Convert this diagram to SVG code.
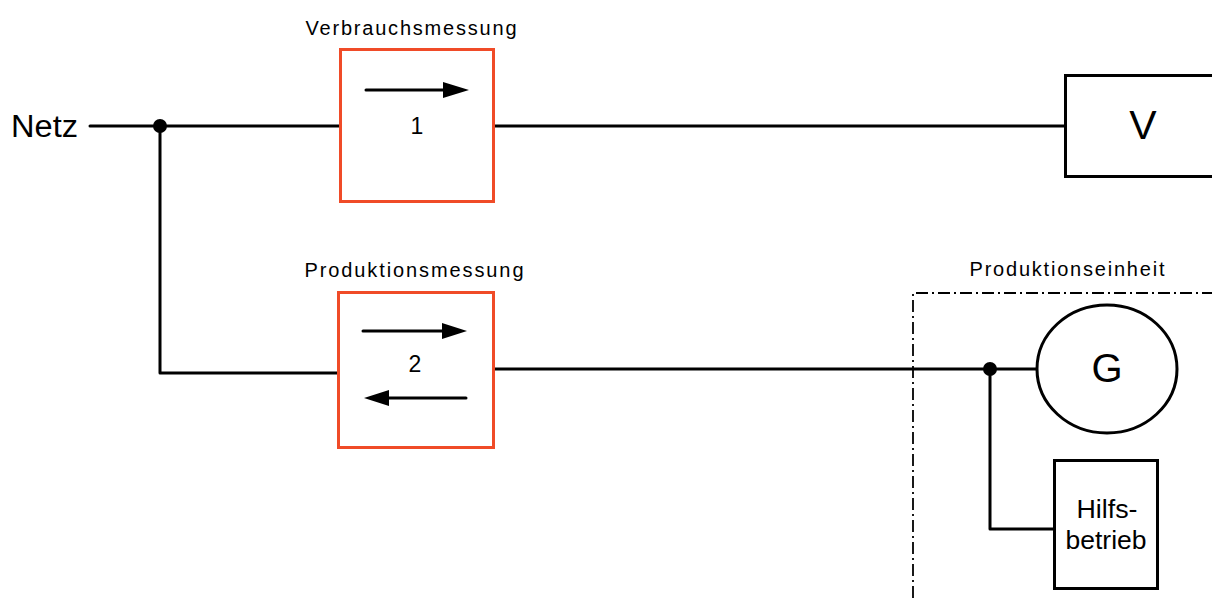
<svg xmlns="http://www.w3.org/2000/svg" width="1212" height="599" viewBox="0 0 1212 599">
<style>
  text { font-family: "Liberation Sans", Arial, sans-serif; fill: #000; }
  .wire { stroke: #000; stroke-width: 3; fill: none; stroke-linecap: round; stroke-linejoin: round; }
  .meter { stroke: #f04b28; stroke-width: 3; fill: #fff; }
  .blk { stroke: #000; stroke-width: 3; fill: #fff; }
  .arr { stroke: #000; stroke-width: 3; fill: none; stroke-linecap: round; }
  .head { fill: #000; stroke: none; }
  .lbl { font-size: 20px; text-anchor: middle; }
  .num { font-size: 23px; text-anchor: middle; }
  .dot { fill: #000; }
</style>
<rect width="1212" height="599" fill="#fff"/>

<g id="produktionseinheit">
  <path d="M913,598 L913,293 L1212,293" fill="none" stroke="#000" stroke-width="1.8" stroke-dasharray="12 4 2 4"/>
  <text x="1067" y="276" class="lbl" textLength="195" lengthAdjust="spacing">Produktionseinheit</text>
</g>

<g id="connectors">
  <line class="wire" x1="90" y1="126" x2="340" y2="126"/>
  <polyline class="wire" points="160,126 160,373 338,373"/>
  <line class="wire" x1="494" y1="126" x2="1065" y2="126"/>
  <line class="wire" x1="493" y1="369" x2="1037" y2="369"/>
  <polyline class="wire" points="990,369 990,529 1054,529"/>
  <circle class="dot" cx="160" cy="126" r="7"/>
  <circle class="dot" cx="990" cy="369" r="7"/>
</g>

<g id="netz">
  <text x="11" y="137" font-size="31" textLength="67" lengthAdjust="spacingAndGlyphs">Netz</text>
</g>

<g id="verbrauchsmessung">
  <text x="411" y="35" class="lbl" textLength="211" lengthAdjust="spacing">Verbrauchsmessung</text>
  <rect class="meter" x="340.5" y="49.5" width="153" height="152"/>
  <line class="arr" x1="366" y1="90" x2="446" y2="90"/>
  <polygon class="head" points="443,82 469,90 443,98"/>
  <text x="417" y="134" class="num">1</text>
</g>

<g id="produktionsmessung">
  <text x="414" y="277" class="lbl" textLength="219" lengthAdjust="spacing">Produktionsmessung</text>
  <rect class="meter" x="338.5" y="292.5" width="155" height="155"/>
  <line class="arr" x1="363" y1="331" x2="445" y2="331"/>
  <polygon class="head" points="442,323 467,331 442,339"/>
  <line class="arr" x1="466" y1="398" x2="385" y2="398"/>
  <polygon class="head" points="389,390 364,398 389,406"/>
  <text x="415" y="372" class="num">2</text>
</g>

<g id="verbraucher">
  <rect class="blk" x="1065.5" y="75.5" width="160" height="101"/>
  <text x="1143" y="139" font-size="41" text-anchor="middle">V</text>
</g>

<g id="generator">
  <ellipse class="blk" cx="1107" cy="369" rx="70" ry="64"/>
  <text x="1107" y="382" font-size="40" text-anchor="middle">G</text>
</g>

<g id="hilfsbetrieb">
  <rect class="blk" x="1054.5" y="460.5" width="103" height="128"/>
  <text x="1107" y="518" font-size="26" text-anchor="middle" textLength="61" lengthAdjust="spacingAndGlyphs">Hilfs-</text>
  <text x="1106" y="549" font-size="26" text-anchor="middle" textLength="81" lengthAdjust="spacingAndGlyphs">betrieb</text>
</g>
</svg>
